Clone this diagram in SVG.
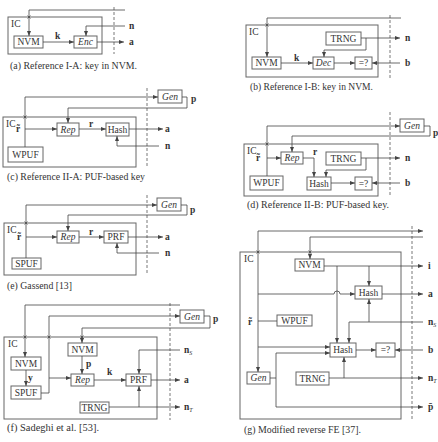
<svg xmlns="http://www.w3.org/2000/svg" width="438" height="442" viewBox="0 0 438 442">
<defs>
<marker id="ah" markerUnits="userSpaceOnUse" markerWidth="5" markerHeight="4" refX="5" refY="2" orient="auto"><path d="M0,0 L5,2 L0,4 z" fill="#444"/></marker>
</defs>
<style>
.box{fill:#fff;stroke:#666;stroke-width:1}
.ic{fill:none;stroke:#666;stroke-width:1}
.ln{fill:none;stroke:#444;stroke-width:0.8}
.ar{marker-end:url(#ah)}
.dash{stroke:#555;stroke-width:0.8;stroke-dasharray:3,2;fill:none}
.t{font-family:"Liberation Serif","DejaVu Serif",serif;font-size:9.5px;fill:#333}
.c{text-anchor:middle}
.i{font-style:italic}
.b{font-weight:bold}
.cap{font-family:"Liberation Serif","DejaVu Serif",serif;font-size:9.5px;fill:#333}
.x{stroke:#444;stroke-width:0.7}
</style>
<rect width="438" height="442" fill="#fff"/>

<!-- Panel a -->
<g id="panel-a">
<rect id="a-ic" class="ic" x="8" y="17" width="94" height="37"/>
<text class="t" x="11" y="27">IC</text>
<g id="a-nvm"><rect class="box" x="14" y="36" width="29" height="12"/><text class="t c" x="28.5" y="45.3">NVM</text></g>
<g id="a-enc"><rect class="box" x="74" y="36" width="23" height="12"/><text class="t c i" x="85.5" y="45.3">Enc</text></g>
<line class="dash" x1="114" y1="7" x2="114" y2="54"/>
<g id="a-conn">
<path class="ln ar" d="M125,10 H29 V36"/>
<path class="x" d="M27.5,15.5 l3,3 m0,-3 l-3,3"/>
<path class="ln ar" d="M43,42 H74"/>
<path class="ln ar" d="M125,26 H86 V36"/>
<path class="ln ar" d="M97,42 H124"/>
</g>
<text class="t b" x="55" y="39">k</text>
<text class="t b" x="129" y="29">n</text>
<text class="t b" x="129" y="45">a</text>
<text class="cap" x="10" y="69" textLength="127" lengthAdjust="spacingAndGlyphs">(a) Reference I-A: key in NVM.</text>
</g>

<!-- Panel b -->
<g id="panel-b">
<rect class="ic" x="246" y="25" width="132" height="52"/>
<text class="t" x="249" y="35">IC</text>
<g id="b-trng"><rect class="box" x="326" y="32" width="35" height="13"/><text class="t c" x="343.5" y="41.8">TRNG</text></g>
<g id="b-nvm"><rect class="box" x="252" y="57" width="29" height="12"/><text class="t c" x="266.5" y="66.3">NVM</text></g>
<g id="b-dec"><rect class="box" x="313" y="57" width="21" height="12"/><text class="t c i" x="323.5" y="66.3">Dec</text></g>
<g id="b-eq"><rect class="box" x="355" y="57" width="17" height="12"/><text class="t c" x="363.5" y="66.3">=?</text></g>
<line class="dash" x1="390" y1="15" x2="390" y2="78"/>
<g id="b-conn">
<path class="ln ar" d="M401,18 H267 V57"/>
<path class="x" d="M265.5,23.5 l3,3 m0,-3 l-3,3"/>
<path class="ln ar" d="M281,63 H313"/>
<path class="ln ar" d="M361,38 H400"/>
<path class="ln ar" d="M366,38 V50 H324 V57"/>
<path class="ln ar" d="M334,63 H355"/>
<path class="ln ar" d="M400,63 H372"/>
</g>
<text class="t b" x="294" y="61">k</text>
<text class="t b" x="405" y="41">n</text>
<text class="t b" x="405" y="66">b</text>
<text class="cap" x="250" y="90" textLength="123" lengthAdjust="spacingAndGlyphs">(b) Reference I-B: key in NVM.</text>
</g>

<!-- Panel c -->
<g id="panel-c">
<g id="c-gen"><rect class="box" x="158" y="90" width="24" height="13"/><text class="t c i" x="170" y="99.8">Gen</text></g>
<rect class="ic" x="3" y="117" width="133" height="50"/>
<text class="t" x="6" y="127">IC</text>
<g id="c-rep"><rect class="box" x="57" y="123" width="22" height="13"/><text class="t c i" x="68" y="132.8">Rep</text></g>
<g id="c-hash"><rect class="box" x="106" y="123" width="23" height="13"/><text class="t c" x="117.5" y="132.8">Hash</text></g>
<g id="c-wpuf"><rect class="box" x="8" y="147" width="35" height="15"/><text class="t c" x="25.5" y="157.8">WPUF</text></g>
<line class="dash" x1="147" y1="88" x2="147" y2="167"/>
<g id="c-conn">
<path class="ln ar" d="M25,147 V97 H158"/>
<path class="x" d="M23.5,115.5 l3,3 m0,-3 l-3,3"/>
<path class="ln ar" d="M25,129 H57"/>
<path class="ln ar" d="M182,97 H187 V108 H68 V123"/>
<path class="ln ar" d="M79,129 H106"/>
<path class="ln ar" d="M129,129 H163"/>
<path class="ln ar" d="M159,146 H117 V136"/>
</g>
<text class="t b" x="16" y="132">r̃</text>
<text class="t b" x="191" y="102">p</text>
<text class="t b" x="89" y="127">r</text>
<text class="t b" x="165" y="132">a</text>
<text class="t b" x="165" y="149">n</text>
<text class="cap" x="7" y="180" textLength="138" lengthAdjust="spacingAndGlyphs">(c) Reference II-A: PUF-based key</text>
</g>

<!-- Panel d -->
<g id="panel-d">
<g id="d-gen"><rect class="box" x="400" y="119" width="24" height="13"/><text class="t c i" x="412" y="128.8">Gen</text></g>
<rect class="ic" x="244" y="144" width="134" height="52"/>
<text class="t" x="247" y="154">IC</text>
<g id="d-rep"><rect class="box" x="281" y="152" width="22" height="12"/><text class="t c i" x="292" y="161.3">Rep</text></g>
<g id="d-trng"><rect class="box" x="326" y="152" width="35" height="13"/><text class="t c" x="343.5" y="161.8">TRNG</text></g>
<g id="d-hash"><rect class="box" x="307" y="177" width="24" height="13"/><text class="t c" x="319" y="186.8">Hash</text></g>
<g id="d-eq"><rect class="box" x="355" y="177" width="17" height="13"/><text class="t c" x="363.5" y="186.8">=?</text></g>
<g id="d-wpuf"><rect class="box" x="250" y="176" width="33" height="14"/><text class="t c" x="266.5" y="186.3">WPUF</text></g>
<line class="dash" x1="390" y1="112" x2="390" y2="196"/>
<g id="d-conn">
<path class="ln ar" d="M267,176 V126 H400"/>
<path class="x" d="M265.5,142.5 l3,3 m0,-3 l-3,3"/>
<path class="ln ar" d="M267,158 H281"/>
<path class="ln ar" d="M424,126 H430 V136 H292 V152"/>
<path class="ln ar" d="M303,158 H314 V177"/>
<path class="ln ar" d="M361,158 H400"/>
<path class="ln ar" d="M366,158 V170 H326 V177"/>
<path class="ln ar" d="M331,183 H355"/>
<path class="ln ar" d="M400,183 H372"/>
</g>
<text class="t b" x="256" y="161">r̃</text>
<text class="t b" x="433" y="136">p</text>
<text class="t b" x="313" y="155">r</text>
<text class="t b" x="405" y="161">n</text>
<text class="t b" x="405" y="186">b</text>
<text class="cap" x="247" y="208" textLength="142" lengthAdjust="spacingAndGlyphs">(d) Reference II-B: PUF-based key.</text>
</g>

<!-- Panel e -->
<g id="panel-e">
<g id="e-gen"><rect class="box" x="157" y="198" width="24" height="13"/><text class="t c i" x="169" y="207.8">Gen</text></g>
<rect class="ic" x="4" y="223" width="132" height="52"/>
<text class="t" x="7" y="233">IC</text>
<g id="e-rep"><rect class="box" x="57" y="231" width="22" height="12"/><text class="t c i" x="68" y="240.3">Rep</text></g>
<g id="e-prf"><rect class="box" x="104" y="231" width="24" height="12"/><text class="t c" x="116" y="240.3">PRF</text></g>
<g id="e-spuf"><rect class="box" x="12" y="258" width="29" height="11"/><text class="t c" x="26.5" y="266.8">SPUF</text></g>
<line class="dash" x1="147" y1="195" x2="147" y2="275"/>
<g id="e-conn">
<path class="ln ar" d="M26,258 V205 H157"/>
<path class="x" d="M24.5,221.5 l3,3 m0,-3 l-3,3"/>
<path class="ln ar" d="M26,237 H57"/>
<path class="ln ar" d="M181,205 H187 V215 H68 V231"/>
<path class="ln ar" d="M79,237 H104"/>
<path class="ln ar" d="M128,237 H163"/>
<path class="ln ar" d="M159,253 H117 V243"/>
</g>
<text class="t b" x="17" y="240">r̃</text>
<text class="t b" x="190" y="213">p</text>
<text class="t b" x="89" y="235">r</text>
<text class="t b" x="165" y="240">a</text>
<text class="t b" x="165" y="256">n</text>
<text class="cap" x="7" y="289" textLength="65" lengthAdjust="spacingAndGlyphs">(e) Gassend [13]</text>
</g>

<!-- Panel f -->
<g id="panel-f">
<g id="f-gen"><rect class="box" x="180" y="310" width="24" height="13"/><text class="t c i" x="192" y="319.8">Gen</text></g>
<rect class="ic" x="4" y="337" width="153" height="82"/>
<text class="t" x="8" y="347">IC</text>
<g id="f-nvm1"><rect class="box" x="11" y="357" width="30" height="13"/><text class="t c" x="26" y="366.8">NVM</text></g>
<g id="f-spuf"><rect class="box" x="11" y="386" width="30" height="13"/><text class="t c" x="26" y="395.8">SPUF</text></g>
<g id="f-nvm2"><rect class="box" x="68" y="343" width="29" height="13"/><text class="t c" x="82.5" y="352.8">NVM</text></g>
<g id="f-rep"><rect class="box" x="71" y="374" width="23" height="12"/><text class="t c i" x="82.5" y="383.3">Rep</text></g>
<g id="f-prf"><rect class="box" x="126" y="374" width="25" height="12"/><text class="t c" x="138.5" y="383.3">PRF</text></g>
<g id="f-trng"><rect class="box" x="80" y="402" width="29" height="11"/><text class="t c" x="94.5" y="410.8">TRNG</text></g>
<line class="dash" x1="170" y1="303" x2="170" y2="420"/>
<g id="f-conn">
<path class="ln ar" d="M180,305 H25 V357"/>
<path class="x" d="M23.5,335.5 l3,3 m0,-3 l-3,3"/>
<path class="ln ar" d="M26,370 V386"/>
<path class="ln ar" d="M41,393 H49 V316 H180"/>
<path class="x" d="M47.5,335.5 l3,3 m0,-3 l-3,3"/>
<path class="ln ar" d="M49,378 H71"/>
<path class="ln ar" d="M204,316 H210 V328 H82 V343"/>
<path class="x" d="M80.5,335.5 l3,3 m0,-3 l-3,3"/>
<path class="ln ar" d="M82,356 V374"/>
<path class="ln ar" d="M94,380 H126"/>
<path class="ln ar" d="M151,380 H180"/>
<path class="ln ar" d="M180,350 H139 V374"/>
<path class="ln ar" d="M109,407 H180"/>
<path class="ln ar" d="M139,407 V386"/>
</g>
<text class="t b" x="28" y="381">y</text>
<text class="t b" x="86" y="367">p</text>
<text class="t b" x="107" y="375">k</text>
<text class="t b" x="213" y="322">p</text>
<text class="t b" x="184" y="353">n<tspan font-size="6" font-weight="normal" font-style="italic" dy="1.5">S</tspan></text>
<text class="t b" x="184" y="383">a</text>
<text class="t b" x="184" y="410">n<tspan font-size="6" font-weight="normal" font-style="italic" dy="1.5">T</tspan></text>
<text class="cap" x="7" y="431" textLength="92" lengthAdjust="spacingAndGlyphs">(f) Sadeghi et al. [53].</text>
</g>

<!-- Panel g -->
<g id="panel-g">
<rect class="ic" x="240" y="252" width="161" height="167"/>
<text class="t" x="244" y="262">IC</text>
<g id="g-nvm"><rect class="box" x="295" y="259" width="29" height="12"/><text class="t c" x="309.5" y="268.3">NVM</text></g>
<g id="g-hash1"><rect class="box" x="355" y="286" width="27" height="13"/><text class="t c" x="368.5" y="295.8">Hash</text></g>
<g id="g-wpuf"><rect class="box" x="277" y="315" width="35" height="11"/><text class="t c" x="294.5" y="323.8">WPUF</text></g>
<g id="g-hash2"><rect class="box" x="330" y="343" width="26" height="14"/><text class="t c" x="343" y="353.3">Hash</text></g>
<g id="g-eq"><rect class="box" x="376" y="343" width="19" height="14"/><text class="t c" x="385.5" y="353.3">=?</text></g>
<g id="g-gen"><rect class="box" x="247" y="372" width="23" height="12"/><text class="t c i" x="258.5" y="381.3">Gen</text></g>
<g id="g-trng"><rect class="box" x="296" y="372" width="33" height="13"/><text class="t c" x="312.5" y="381.8">TRNG</text></g>
<line class="dash" x1="412" y1="226" x2="412" y2="420"/>
<g id="g-conn">
<path class="ln ar" d="M258,231 H423"/>
<path class="ln ar" d="M258,231 V372"/>
<path class="x" d="M256.5,250.5 l3,3 m0,-3 l-3,3"/>
<path class="ln ar" d="M423,237 H310 V259"/>
<path class="x" d="M308.5,250.5 l3,3 m0,-3 l-3,3"/>
<path class="ln ar" d="M324,266 H423"/>
<path class="ln ar" d="M369,266 V286"/>
<path class="ln ar" d="M337,266 V343"/>
<path class="ln ar" d="M258,294 H334 A3,3 0 0 1 340,294 H355"/>
<path class="ln ar" d="M382,294 H423"/>
<path class="ln ar" d="M423,322 H349 V343"/>
<path class="ln ar" d="M369,322 V299"/>
<path class="ln" d="M258,321 H277"/>
<path class="ln ar" d="M258,347 H330"/>
<path class="ln ar" d="M270,378 H276 V353 H330"/>
<path class="ln ar" d="M276,378 V407 H423"/>
<path class="ln ar" d="M356,350 H376"/>
<path class="ln ar" d="M423,350 H395"/>
<path class="ln ar" d="M329,378 H423"/>
<path class="ln ar" d="M344,378 V357"/>
</g>
<text class="t b" x="248" y="325">r̃</text>
<text class="t b" x="428" y="269">i</text>
<text class="t b" x="428" y="297">a</text>
<text class="t b" x="428" y="325">n<tspan font-size="6" font-weight="normal" font-style="italic" dy="1.5">S</tspan></text>
<text class="t b" x="428" y="353">b</text>
<text class="t b" x="428" y="381">n<tspan font-size="6" font-weight="normal" font-style="italic" dy="1.5">T</tspan></text>
<text class="t b" x="428" y="410">p̄</text>
<text class="cap" x="244" y="433" textLength="117" lengthAdjust="spacingAndGlyphs">(g) Modified reverse FE [37].</text>
</g>
</svg>
